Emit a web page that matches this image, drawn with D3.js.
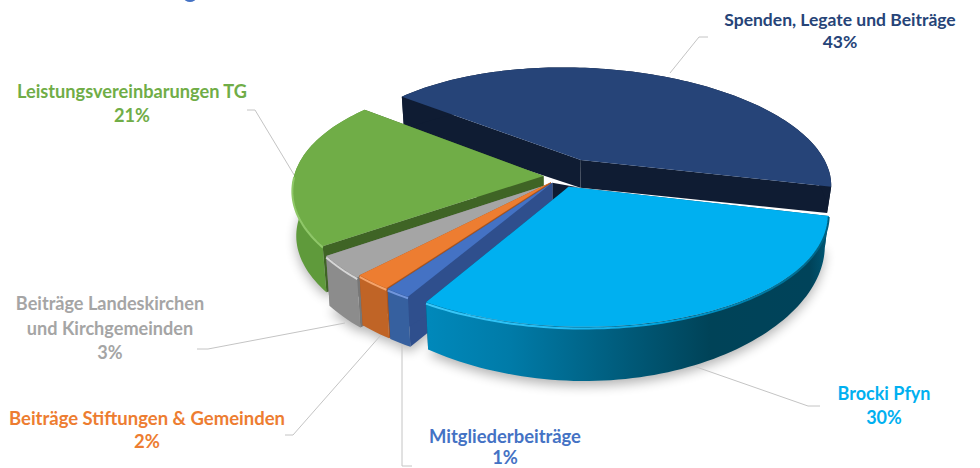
<!DOCTYPE html>
<html>
<head>
<meta charset="utf-8">
<script src="https://cdnjs.cloudflare.com/ajax/libs/d3/7.8.5/d3.min.js"></script>
<style>
  html, body { margin: 0; background: #fff; }
  svg { display: block; }
  text { font-family: Lato, "Open Sans", sans-serif; font-weight: 700; text-anchor: middle; }
</style>
</head>
<body>
<svg id="chart" width="980" height="468"></svg>
<script>
const categories = ['Spenden, Legate und Beiträge', 'Brocki Pfyn', 'Mitgliederbeiträge', 'Beiträge Stiftungen & Gemeinden', 'Beiträge Landeskirchen und Kirchgemeinden', 'Leistungsvereinbarungen TG'];
const shares = [42.6, 30.0, 1.4, 2.1, 3.1, 20.8];
const labelLines = [
  ['Spenden, Legate und Beiträge'],
  ['Brocki Pfyn'],
  ['Mitgliederbeiträge'],
  ['Beiträge Stiftungen & Gemeinden'],
  ['Beiträge Landeskirchen', 'und Kirchgemeinden'],
  ['Leistungsvereinbarungen TG']
];

const topColors = ['#264478', '#00b0f0', '#4472c4', '#ed7d31', '#a5a5a5', '#70ad47'];
const wallColors = ['#0f1c33', '#00729c', '#36609f', '#c06426', '#8c8c8c', '#5f9a3b'];
const sideColors = ['#0f1c33', '#004d68', '#2f4f8d', '#a85520', '#777777', '#3f6425'];
const rimColors = [null, '#3cc8f8', '#6f95dc', '#f5a36a', '#d6d6d6', '#8fc868'];
const textColors = ['#264478', '#00b0f0', '#4472c4', '#ed7d31', '#a5a5a5', '#70ad47'];
const explodeU = [0.1, 0.035, -0.028, -0.033, -0.04, -0.06];
const explodeV = [-0.11, 0.13, 0.095, 0.09, 0.105, 0.035];
const thickness = [27, 26, 50, 50, 50, 46];
const thicknessGrow = [-0.233, 0.46, 0, 0, 0, 0];
const drawOrder = [0, 5, 4, 3, 2, 1];

// label anchors and leader polylines, in page pixels
const labelPos = [[840, 26], [884, 400], [505, 443], [147, 425], [110, 310], [132, 98]];
const labelSize = [17.5, 18, 18.4, 18.5, 18.1, 18.2];
const lineGap = [22, 24, 21, 23, 24.5, 24];
const leaders = [
  [[670, 73], [699, 37], [708, 37]],
  [[682, 362], [808, 406], [820, 406]],
  [[402, 340], [402, 466], [412, 466]],
  [[388, 327], [293, 435], [285, 435]],
  [[345, 323], [208, 349], [197, 349]],
  [[296, 178], [255, 110], [247, 110]]
];

const cx = 558, cy = 172;      // pie centre on screen
const R = 248, K = 111.5;      // plane radius, horizontal and vertical
const P = 0.165;               // perspective strength
const SKEW = 14;

const svg = d3.select('#chart');
const defs = svg.append('defs');

const blur = defs.append('filter').attr('id', 'shadow')
  .attr('x', '-20%').attr('y', '-20%').attr('width', '140%').attr('height', '140%');
blur.append('feGaussianBlur').attr('stdDeviation', 6);
const soft = defs.append('filter').attr('id', 'soft')
  .attr('x', '-10%').attr('y', '-50%').attr('width', '120%').attr('height', '200%');
soft.append('feGaussianBlur').attr('stdDeviation', 0.7);

const slices = d3.pie().sort(null).value(d => d)
  .startAngle(-49.5 * Math.PI / 180)
  .endAngle(310.5 * Math.PI / 180)(shares);

function projector(i) {
  return (a, r, z) => {
    const u = r * Math.sin(a) + explodeU[i];
    const v = -r * Math.cos(a) + explodeV[i];
    const w = 1 - P * v;
    return [
      cx + R * u / w * (1 - 0.015 * z) + SKEW * v,
      cy + K * v / w + z * thickness[i] / (1 - thicknessGrow[i] * v)
    ];
  };
}

function arcPoints(d, proj, z, from, to) {
  const a0 = from === undefined ? d.startAngle : from;
  const a1 = to === undefined ? d.endAngle : to;
  const n = Math.max(2, Math.ceil((a1 - a0) * 40));
  return d3.range(n + 1).map(k => proj(a0 + (a1 - a0) * k / n, 1, z));
}

const line = d3.line();
const closed = d3.line().curve(d3.curveLinearClosed);

// remains of the cropped title at the top edge
svg.append('ellipse')
  .attr('cx', 190).attr('cy', -2).attr('rx', 6).attr('ry', 4)
  .attr('fill', '#4472c4');

// soft shadow below the pie
const shadowG = svg.append('g').attr('filter', 'url(#shadow)').attr('opacity', 0.3);
slices.forEach((d, i) => {
  if (i === 0) return;
  const proj = projector(i);
  shadowG.append('path')
    .attr('d', closed([proj(0, 0, 1.03), ...arcPoints(d, proj, 1.03)]))
    .attr('transform', 'translate(0,3)')
    .attr('fill', '#000');
});

// leader lines sit under the pie
svg.append('g').selectAll('path').data(leaders).join('path')
  .attr('d', d => line(d))
  .attr('fill', 'none')
  .attr('stroke', '#c4c4c4')
  .attr('stroke-width', 1);

const wallGrad = defs.append('linearGradient').attr('id', 'brockiWall')
  .attr('gradientUnits', 'userSpaceOnUse')
  .attr('x1', 430).attr('x2', 830).attr('y1', 0).attr('y2', 0);
[[0, '#0088ba'], [0.2, '#007ba8'], [0.45, '#005f80'], [0.7, '#004358'], [0.95, '#00435a'], [1, '#005a78']]
  .forEach(s => wallGrad.append('stop').attr('offset', s[0]).attr('stop-color', s[1]));

const rimGrad = defs.append('linearGradient').attr('id', 'brockiRim')
  .attr('gradientUnits', 'userSpaceOnUse')
  .attr('x1', 430).attr('x2', 830).attr('y1', 0).attr('y2', 0);
[[0, '#3cc8f8'], [0.35, '#20bcf4'], [0.6, '#00a0da'], [1, '#00607f']]
  .forEach(s => rimGrad.append('stop').attr('offset', s[0]).attr('stop-color', s[1]));

drawOrder.forEach(i => {
  const d = slices[i];
  const proj = projector(i);
  const g = svg.append('g');

  // radial walls
  [d.startAngle, d.endAngle].forEach(a => {
    g.append('path')
      .attr('d', closed([proj(0, 0, 0), proj(a, 1, 0), proj(a, 1, 1), proj(0, 0, 1)]))
      .attr('fill', sideColors[i]);
  });

  // outer wall
  const rimTop = arcPoints(d, proj, 0);
  const rimBottom = arcPoints(d, proj, 1).reverse();
  g.append('path')
    .attr('d', closed(rimTop.concat(rimBottom)))
    .attr('fill', i === 1 ? 'url(#brockiWall)' : wallColors[i]);

  // top face
  g.append('path')
    .attr('d', closed([proj(0, 0, 0), ...rimTop]))
    .attr('fill', topColors[i]);

  // dark core seen in the gap behind the small slices
  if (i === 0) {
    g.append('path')
      .attr('d', closed([projector(0)(0, 0, 1), projector(2)(0, 0, 0), projector(2)(0, 0, 0.4), projector(1)(0, 0, 0)]))
      .attr('fill', sideColors[0]);
  }

  // lit edge of the bevel along the front rim
  if (rimColors[i]) {
    const a0 = Math.max(d.startAngle, Math.PI / 2);
    const a1 = Math.min(d.endAngle, Math.PI * 1.5);
    g.append('path')
      .attr('d', line(arcPoints(d, proj, 0.03, a0, a1)))
      .attr('fill', 'none')
      .attr('stroke', i === 1 ? 'url(#brockiRim)' : rimColors[i])
      .attr('stroke-width', 2)
      .attr('filter', 'url(#soft)');
  }
});

// data labels
const pct = d3.format('.0f');
categories.forEach((name, i) => {
  const t = svg.append('text').attr('fill', textColors[i]).attr('font-size', labelSize[i]);
  const lines = labelLines[i].concat(pct(shares[i]) + '%');
  lines.forEach((s, k) => {
    t.append('tspan')
      .attr('x', labelPos[i][0])
      .attr('y', labelPos[i][1] + k * lineGap[i])
      .text(s);
  });
});
</script>
</body>
</html>
